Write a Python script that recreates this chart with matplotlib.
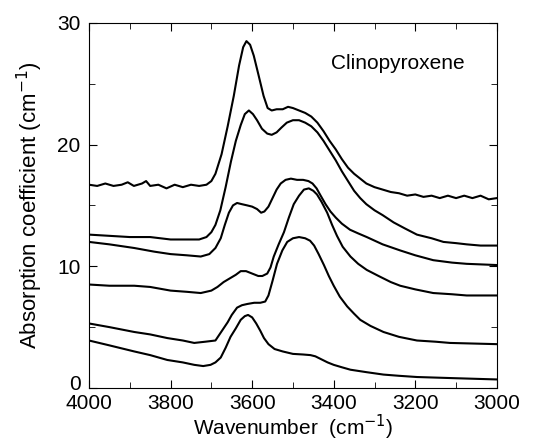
import matplotlib
matplotlib.use("Agg")
import matplotlib.pyplot as plt
import matplotlib.transforms as mtransforms
from matplotlib.ticker import MultipleLocator

plt.rcParams['font.family'] = ['Liberation Sans', 'DejaVu Sans']

# spectra (wavenumber, absorption coefficient), top to bottom
x_a = [4000, 3980, 3960, 3940, 3920, 3905, 3890, 3870, 3860, 3850, 3830, 3810, 3790, 3770,
       3750, 3730, 3712, 3700, 3690, 3675, 3660, 3645, 3632, 3622, 3614, 3605, 3596, 3585,
       3572, 3562, 3552, 3540, 3525, 3512, 3500, 3485, 3470, 3455, 3440, 3425, 3410, 3395,
       3380, 3365, 3350, 3335, 3320, 3300, 3280, 3260, 3240, 3220, 3200, 3180, 3160, 3140,
       3120, 3100, 3080, 3060, 3040, 3020, 3000]
y_a = [16.7, 16.6, 16.8, 16.6, 16.7, 16.9, 16.6, 16.8, 17.0, 16.6, 16.7, 16.4, 16.7, 16.5,
       16.7, 16.6, 16.7, 17.0, 17.6, 19.2, 21.5, 24.0, 26.5, 28.0, 28.5, 28.2, 27.3, 25.8,
       24.0, 23.0, 22.8, 22.9, 22.9, 23.1, 23.0, 22.8, 22.6, 22.3, 21.8, 21.1, 20.3, 19.6,
       18.8, 18.1, 17.6, 17.2, 16.8, 16.5, 16.3, 16.1, 16.0, 15.8, 15.9, 15.7, 15.8, 15.6,
       15.8, 15.6, 15.8, 15.6, 15.8, 15.5, 15.6]

x_b = [4000, 3950, 3900, 3850, 3800, 3760, 3730, 3712, 3700, 3690, 3678, 3665, 3652, 3640,
       3628, 3618, 3608, 3598, 3588, 3576, 3563, 3552, 3540, 3528, 3515, 3500, 3485, 3470,
       3455, 3440, 3425, 3410, 3395, 3380, 3365, 3350, 3335, 3320, 3300, 3280, 3253, 3225,
       3196, 3160, 3131, 3100, 3074, 3040, 3000]
y_b = [12.6, 12.5, 12.4, 12.4, 12.2, 12.2, 12.2, 12.4, 12.8, 13.4, 14.6, 16.5, 18.6, 20.3,
       21.6, 22.5, 22.8, 22.5, 22.0, 21.3, 20.9, 20.8, 21.0, 21.4, 21.8, 22.0, 22.0, 21.8,
       21.5, 21.0, 20.3, 19.5, 18.7, 17.8, 17.0, 16.2, 15.6, 15.1, 14.6, 14.2, 13.6, 13.1,
       12.6, 12.3, 12.0, 11.9, 11.8, 11.7, 11.7]

x_c = [4000, 3950, 3889, 3840, 3800, 3760, 3726, 3705, 3690, 3677, 3667, 3657, 3647, 3637,
       3625, 3612, 3600, 3588, 3578, 3570, 3560, 3550, 3540, 3530, 3518, 3505, 3490, 3475,
       3462, 3452, 3442, 3432, 3420, 3408, 3395, 3380, 3360, 3340, 3319, 3280, 3237, 3200,
       3156, 3110, 3074, 3000]
y_c = [12.0, 11.8, 11.5, 11.2, 11.0, 10.9, 10.8, 11.0, 11.5, 12.3, 13.4, 14.4, 15.0, 15.2,
       15.1, 15.0, 14.9, 14.7, 14.4, 14.5, 14.9, 15.6, 16.3, 16.8, 17.1, 17.2, 17.1, 17.1,
       17.0, 16.8, 16.4, 15.8, 15.1, 14.5, 14.0, 13.5, 13.0, 12.7, 12.4, 11.8, 11.3, 10.9,
       10.5, 10.3, 10.2, 10.1]

x_d = [4000, 3950, 3889, 3850, 3800, 3760, 3726, 3700, 3685, 3670, 3655, 3640, 3628, 3615,
       3600, 3585, 3575, 3563, 3555, 3547, 3535, 3522, 3510, 3498, 3485, 3473, 3461, 3450,
       3441, 3430, 3416, 3404, 3392, 3378, 3359, 3340, 3319, 3290, 3260, 3237, 3200, 3156,
       3110, 3074, 3000]
y_d = [8.5, 8.4, 8.4, 8.3, 8.0, 7.9, 7.8, 8.0, 8.3, 8.7, 9.0, 9.3, 9.6, 9.6,
       9.4, 9.2, 9.2, 9.4, 9.9, 10.8, 11.8, 12.8, 14.0, 15.1, 15.8, 16.3, 16.4, 16.2,
       15.9, 15.3, 14.4, 13.4, 12.5, 11.6, 10.8, 10.2, 9.7, 9.2, 8.7, 8.4, 8.1, 7.8,
       7.7, 7.6, 7.6]

x_e = [4000, 3950, 3889, 3850, 3808, 3770, 3742, 3715, 3690, 3680, 3670, 3660, 3650, 3637,
       3625, 3612, 3595, 3580, 3568, 3560, 3550, 3539, 3526, 3514, 3500, 3485, 3470, 3458,
       3448, 3437, 3424, 3412, 3400, 3385, 3367, 3350, 3335, 3310, 3278, 3240, 3196, 3150,
       3115, 3000]
y_e = [5.3, 5.0, 4.6, 4.4, 4.1, 3.9, 3.7, 3.8, 3.9, 4.4, 4.9, 5.4, 6.0, 6.6,
       6.8, 6.9, 7.0, 7.0, 7.1, 7.6, 8.8, 10.2, 11.3, 12.0, 12.3, 12.4, 12.3, 12.1,
       11.7, 11.0, 10.1, 9.2, 8.4, 7.5, 6.7, 6.1, 5.6, 5.1, 4.6, 4.2, 3.9, 3.8,
       3.7, 3.6]

x_f = [4000, 3950, 3889, 3850, 3808, 3770, 3742, 3720, 3702, 3690, 3677, 3665, 3653, 3640,
       3628, 3618, 3610, 3600, 3590, 3580, 3571, 3560, 3545, 3525, 3500, 3475, 3457, 3445,
       3433, 3415, 3400, 3380, 3359, 3320, 3278, 3240, 3196, 3100, 3000]
y_f = [3.9, 3.5, 3.0, 2.7, 2.3, 2.1, 1.9, 1.8, 1.9, 2.1, 2.5, 3.3, 4.2, 4.9,
       5.6, 5.9, 6.0, 5.8, 5.3, 4.7, 4.1, 3.6, 3.2, 3.0, 2.8, 2.75, 2.7, 2.6,
       2.4, 2.1, 1.9, 1.7, 1.5, 1.3, 1.1, 1.0, 0.9, 0.8, 0.7]

fig = plt.figure(figsize=(5.46, 4.48), dpi=100)
ax = fig.add_axes([0.163, 0.134, 0.747, 0.815])

for xs, ys in [(x_a, y_a), (x_b, y_b), (x_c, y_c), (x_d, y_d), (x_e, y_e), (x_f, y_f)]:
    ax.plot(xs, ys, color='black', lw=1.5)

ax.set_xlim(4000, 3000)
ax.set_ylim(0, 30)
ax.xaxis.set_major_locator(MultipleLocator(200))
ax.xaxis.set_minor_locator(MultipleLocator(100))
ax.set_yticks([0, 10, 20, 30])
ax.yaxis.set_minor_locator(MultipleLocator(5))
ax.tick_params(which='both', direction='in', top=True, right=True, labelsize=15)
ax.tick_params(which='major', length=6)
ax.tick_params(which='minor', length=4)
ax.tick_params(axis='x', pad=4)
ax.tick_params(axis='y', pad=6)

# the "0" label sits a little above the axis in the original
lab0 = ax.yaxis.get_major_ticks()[0].label1
lab0.set_transform(lab0.get_transform() + mtransforms.ScaledTranslation(0, 4 / 72, fig.dpi_scale_trans))

ax.set_xlabel('Wavenumber  (cm$^{-1}$)', fontsize=15, labelpad=0)
ax.set_ylabel('Absorption coefficient (cm$^{-1}$)', fontsize=16, labelpad=9)
ax.text(3242, 26.7, 'Clinopyroxene', fontsize=15, ha='center', va='center')

plt.savefig('out.png', dpi=100)
